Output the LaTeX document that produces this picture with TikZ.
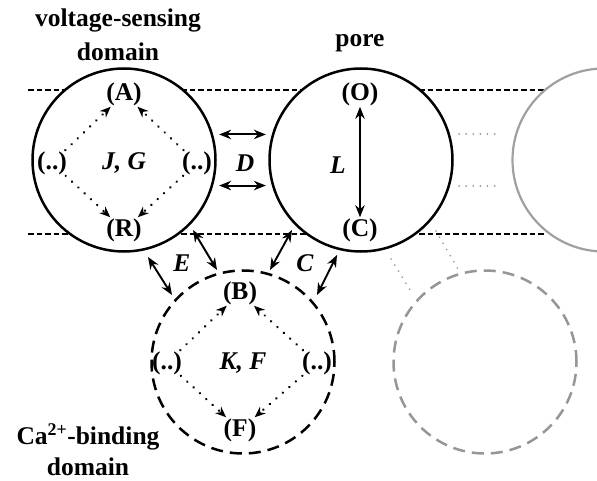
\documentclass[tikz,border=0pt]{standalone}
\usepackage{fontspec}
\setmainfont{Liberation Serif}
\usetikzlibrary{arrows.meta}

\definecolor{lightgrey}{RGB}{160,160,160}
\definecolor{midgrey}{RGB}{150,150,150}

\tikzset{
  txt/.style={font=\fontsize{25.5}{30}\selectfont\bfseries, inner sep=1pt},
  itxt/.style={font=\fontsize{25.5}{30}\selectfont\bfseries\itshape, inner sep=1pt},
  membrane/.style={line width=1.2pt, dash pattern=on 5.5pt off 3pt},
  domainring/.style={circle, draw, line width=2.5pt, fill=white, minimum size=183pt, inner sep=0pt},
  boundring/.style={domainring, dash pattern=on 12pt off 7pt},
  ghostring/.style={domainring, draw=lightgrey, line width=2.2pt},
  ghostbound/.style={boundring, draw=midgrey},
  trans/.style={line width=2.6pt, dash pattern=on 0.1pt off 8.5pt, line cap=round,
    -{Stealth[length=11pt,width=9pt,line width=0pt]}},
  couple/.style={line width=1.9pt, {Stealth[length=12pt,width=9.5pt]}-{Stealth[length=12pt,width=9.5pt]}},
  ghostlink/.style={draw=midgrey, line width=1.8pt, dash pattern=on 0.1pt off 7pt, line cap=round},
}

\begin{document}
\begin{tikzpicture}[x=1pt,y=-1pt]
\useasboundingbox (0,0) rectangle (597,481);
\clip (0,0) rectangle (597,481);

% membrane boundaries
\coordinate (mtl) at (28,90);
\coordinate (mtr) at (545,90);
\coordinate (mbl) at (28,234);
\coordinate (mbr) at (545,234);
\draw[membrane] (mtl) -- (mtr);
\draw[membrane] (mbl) -- (mbr);

% domains
\node[domainring] (vsd) at (124,160) {};
\node[domainring] (pore) at (361,160) {};
\node[ghostring] (nextpore) at (604,160) {};
\node[boundring] (cbd) at (243,362) {};
\node[ghostbound] (nextcbd) at (485,362) {};

% repeated units
\coordinate (g1a) at (459,134);
\coordinate (g1b) at (498,134);
\coordinate (g2a) at (459,186);
\coordinate (g2b) at (498,186);
\draw[ghostlink] (g1a) -- (g1b);
\draw[ghostlink] (g2a) -- (g2b);
\coordinate (g3a) at (391,259);
\coordinate (g3b) at (412,293);
\coordinate (g4a) at (436,231);
\coordinate (g4b) at (458,269);
\draw[ghostlink] (g3a) -- (g3b);
\draw[ghostlink] (g4a) -- (g4b);

% titles
\node[txt] (t1) at (118,20) {voltage-sensing};
\node[txt] (t2) at (118,52) {domain};
\node[txt] (t3) at (360,43) {pore};
\node[txt] (t4) at (88,437) {Ca\textsuperscript{2+}-binding};
\node[txt] (t5) at (88,467) {domain};

% voltage-sensing domain states
\node[txt] (A) at (124,94) {(A)};
\node[txt] (R) at (124,230) {(R)};
\node[txt] (vl) at (52,163) {(..)};
\node[txt] (vr) at (197,163) {(..)};
\node[itxt] (JG) at (124,163) {J, G};
\draw[trans] (vl) -- (A);
\draw[trans] (vr) -- (A);
\draw[trans] (vl) -- (R);
\draw[trans] (vr) -- (R);

% pore states
\node[txt] (O) at (360,94) {(O)};
\node[txt] (Cl) at (360,230) {(C)};
\node[itxt] (L) at (338,165) {L};
\draw[couple] (O) -- (Cl);

% calcium-binding domain states
\node[txt] (B) at (240,293) {(B)};
\node[txt] (F) at (240,430) {(F)};
\node[txt] (cl) at (167,363) {(..)};
\node[txt] (cr) at (317,363) {(..)};
\node[itxt] (KF) at (243,363) {K, F};
\draw[trans] (cl) -- (B);
\draw[trans] (cr) -- (B);
\draw[trans] (cl) -- (F);
\draw[trans] (cr) -- (F);

% coupling between domains
\node[itxt] (D) at (245,163) {D};
\draw[couple, shorten <=6pt, shorten >=6pt] (vsd.16) -- (pore.164);
\draw[couple, shorten <=6pt, shorten >=6pt] (vsd.-16) -- (pore.-164);

\node[itxt] (E) at (182,263) {E};
\coordinate (e1a) at (148,257);
\coordinate (e1b) at (172,295);
\coordinate (e2a) at (193,230);
\coordinate (e2b) at (217,270);
\draw[couple] (e1a) -- (e1b);
\draw[couple] (e2a) -- (e2b);

\node[itxt] (C) at (305,263) {C};
\coordinate (c1a) at (292,230);
\coordinate (c1b) at (270,270);
\coordinate (c2a) at (337,255);
\coordinate (c2b) at (317,295);
\draw[couple] (c1a) -- (c1b);
\draw[couple] (c2a) -- (c2b);
\end{tikzpicture}
\end{document}
